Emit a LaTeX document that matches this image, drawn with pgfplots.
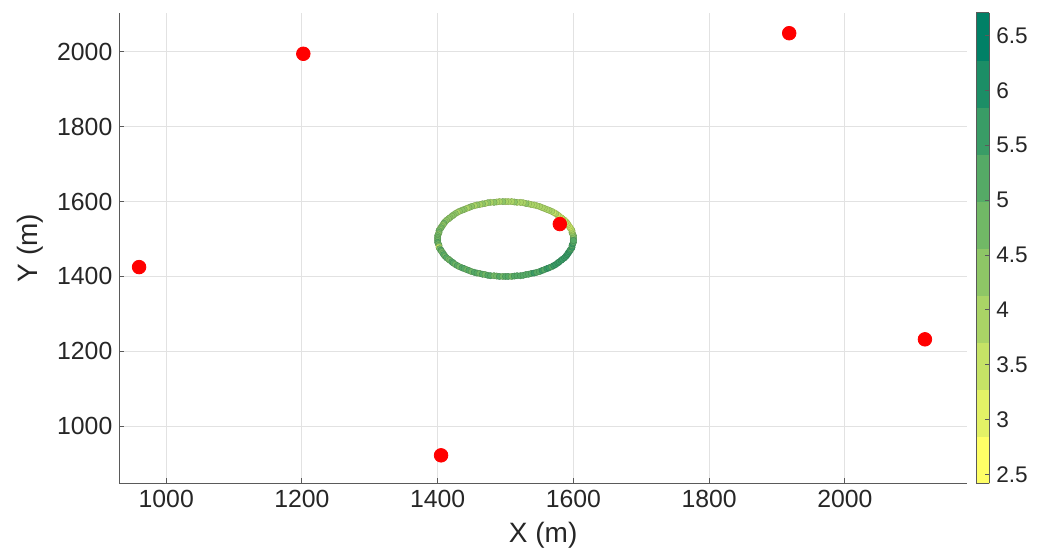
\documentclass[border=0pt]{standalone}
\usepackage{pgfplots}
\pgfplotsset{compat=1.18}
\usepackage{pgfplotstable}
\usepackage{fontspec}
\setmainfont{Liberation Sans}
\definecolor{tickgray}{RGB}{38,38,38}
\definecolor{axgray}{RGB}{90,90,90}
\definecolor{gridgray}{RGB}{226,226,226}

\pgfplotstableread{
x y c
1600 1500 5.1
1600 1504 4.9
1600 1509 4.7
1599 1513 4.5
1598 1517 4.3
1598 1522 4.0
1597 1526 3.9
1595 1530 3.6
1594 1534 3.5
1592 1538 3.4
1591 1542 3.3
1589 1546 3.4
1587 1550 3.5
1584 1554 3.6
1582 1557 3.5
1579 1561 3.7
1577 1564 3.6
1574 1568 3.8
1571 1571 3.7
1568 1574 3.9
1564 1577 3.8
1561 1579 4.0
1557 1582 3.9
1554 1584 3.8
1550 1587 4.0
1546 1589 3.9
1542 1591 4.1
1538 1592 4.0
1534 1594 3.9
1530 1595 4.2
1526 1597 4.0
1522 1598 4.1
1517 1598 3.9
1513 1599 4.2
1509 1600 4.0
1504 1600 4.1
1500 1600 3.9
1496 1600 4.2
1491 1600 4.0
1487 1599 4.1
1483 1598 4.3
1478 1598 4.0
1474 1597 4.2
1470 1595 4.1
1466 1594 4.3
1462 1592 4.0
1458 1591 4.2
1454 1589 4.1
1450 1587 4.3
1446 1584 4.2
1443 1582 4.0
1439 1579 4.3
1436 1577 4.2
1432 1574 4.4
1429 1571 4.1
1426 1568 4.3
1423 1564 4.2
1421 1561 4.4
1418 1557 4.2
1416 1554 4.5
1413 1550 4.3
1411 1546 4.4
1409 1542 4.6
1408 1538 4.3
1406 1534 4.5
1405 1530 4.7
1403 1526 4.4
1402 1522 4.6
1402 1517 4.8
1401 1513 4.5
1400 1509 4.7
1400 1504 4.9
1400 1500 4.6
1400 1496 4.8
1400 1491 5.0
1401 1487 4.7
1402 1483 4.9
1402 1478 3.4
1403 1474 4.8
1405 1470 5.1
1406 1466 4.9
1408 1462 4.7
1409 1458 5.0
1411 1454 4.8
1413 1450 5.1
1416 1446 4.9
1418 1443 4.7
1421 1439 5.0
1423 1436 5.2
1426 1432 4.9
1429 1429 5.1
1432 1426 4.8
1436 1423 5.0
1439 1421 5.2
1443 1418 4.9
1446 1416 5.1
1450 1413 4.8
1454 1411 5.0
1458 1409 5.2
1462 1408 4.9
1466 1406 5.1
1470 1405 4.8
1474 1403 5.0
1478 1402 5.2
1483 1402 4.9
1487 1401 4.7
1491 1400 5.1
1496 1400 4.9
1500 1400 5.0
1504 1400 5.2
1509 1400 4.9
1513 1401 5.1
1517 1402 5.3
1522 1402 5.0
1526 1403 5.2
1530 1405 5.4
1534 1406 5.1
1538 1408 5.3
1542 1409 5.5
1546 1411 5.2
1550 1413 5.4
1554 1416 5.6
1557 1418 5.3
1561 1421 5.5
1564 1423 5.7
1568 1426 5.4
1571 1429 5.6
1574 1432 5.8
1577 1436 5.5
1579 1439 5.7
1582 1443 5.6
1584 1446 5.8
1587 1450 5.5
1589 1454 5.7
1591 1458 5.6
1592 1462 5.8
1594 1466 5.5
1595 1470 5.7
1597 1474 5.4
1598 1478 5.6
1598 1483 5.3
1599 1487 5.5
1600 1491 5.2
1600 1496 5.4
}\ringdata

\pgfplotstableread{
x y
960 1425
1202 1995
1405 922
1580 1540
1918 2050
2118 1232
}\anchordata

\begin{document}
\begin{tikzpicture}
\path[use as bounding box] (-59.7pt,-36.4pt) rectangle (462.8pt,241.7pt);
\begin{axis}[
  at={(0,0)}, anchor=south west,
  scale only axis, width=423.8pt, height=235.2pt,
  xmin=931, xmax=2180, ymin=847, ymax=2104,
  axis x line*=bottom, axis y line*=left,
  axis line style={-, color=axgray, line width=0.5pt},
  xtick={1000,1200,...,2000}, ytick={1000,1200,...,2000},
  tick align=inside, major tick length=2.5pt,
  tick style={color=axgray, line width=0.5pt},
  grid=major, major grid style={color=gridgray, line width=0.5pt},
  /pgf/number format/assume math mode=true,
  /pgf/number format/1000 sep={},
  tick label style={font=\fontsize{12.4}{14}\selectfont, text=tickgray},
  xlabel={X (m)}, ylabel={Y (m)},
  label style={font=\fontsize{14}{16}\selectfont, text=tickgray},
  xlabel style={at={(axis description cs:0.5,-0.1105)}, anchor=center},
  ylabel style={at={(axis description cs:-0.1055,0.5)}, anchor=center},
  colormap access=piecewise constant,
  colormap={summerd}{
    rgb255(0cm)=(255,255,102)
    rgb255(1cm)=(227,241,102)
    rgb255(2cm)=(198,227,102)
    rgb255(3cm)=(170,212,102)
    rgb255(4cm)=(142,198,102)
    rgb255(5cm)=(113,184,102)
    rgb255(6cm)=(85,170,102)
    rgb255(7cm)=(57,156,102)
    rgb255(8cm)=(28,142,102)
    rgb255(9cm)=(0,128,102)
    rgb255(10cm)=(0,128,102)
  },
  point meta min=2.42, point meta max=6.705,
  colorbar,
  colorbar style={
    at={(parent axis.north east)}, anchor=north west, xshift=-4pt,
    width=6.6pt,
    ytick={2.5,3,...,6.5},
    ytick pos=right, yticklabel pos=right,
    tick align=inside, major tick length=2.2pt,
    tick style={color=axgray, line width=0.5pt},
    axis line style={color=axgray, line width=0.5pt},
    /pgf/number format/assume math mode=true,
    yticklabel style={font=\fontsize{11.3}{13}\selectfont, text=tickgray},
  },
]
\addplot[scatter, only marks, mark=*, mark size=1.6pt, line width=0.2pt,
  point meta=explicit] table[x=x, y=y, meta=c] {\ringdata};
\addplot[only marks, mark=*, mark size=3.4pt, color=red, fill=red] table[x=x, y=y] {\anchordata};
\end{axis}
\end{tikzpicture}
\end{document}
